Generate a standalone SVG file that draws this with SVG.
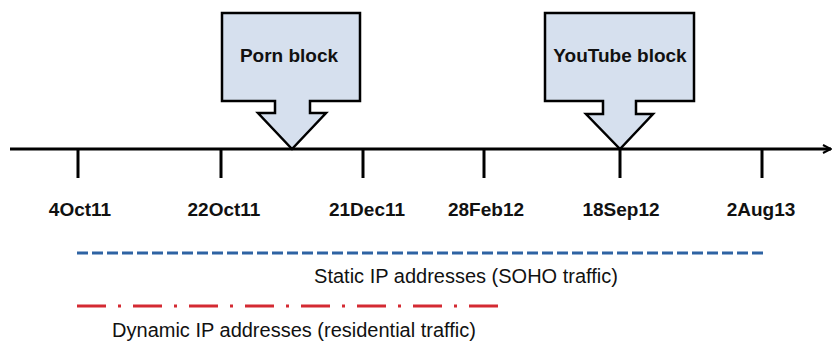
<svg xmlns="http://www.w3.org/2000/svg" width="834" height="347" viewBox="0 0 834 347">
  <style>
    .callout { fill: #d6e0ee; stroke: #000; stroke-width: 2.5; stroke-linejoin: miter; }
    .axis { stroke: #000; stroke-width: 3; fill: none; }
    .tick { stroke: #000; stroke-width: 3; }
    .lbl { font-family: "Liberation Sans", Arial, sans-serif; font-size: 19px; fill: #111; text-anchor: middle; }
    .date { font-weight: bold; }
    .title { font-weight: bold; }
    .legend { font-size: 20px; }
  </style>
  <defs>
    <marker id="arrowOpen" viewBox="0 0 10 10" refX="9" refY="5" markerWidth="10" markerHeight="10" markerUnits="userSpaceOnUse" orient="auto">
      <path d="M1,1 L9,5 L1,9" fill="none" stroke="#000" stroke-width="2"/>
    </marker>
  </defs>

  <!-- event callouts -->
  <g id="porn-block">
    <path class="callout" d="M222,13 H360 V101 H310 V113 H326 L292,149 L258,113 H275 V101 H222 Z"/>
    <text class="lbl title" x="289" y="62">Porn block</text>
  </g>
  <g id="youtube-block">
    <path class="callout" d="M545,13 H694 V101 H636 V114 H653 L620,149 L586,114 H603 V101 H545 Z"/>
    <text class="lbl title" x="620" y="62">YouTube block</text>
  </g>

  <!-- time axis -->
  <g id="connectors">
    <line class="axis" x1="10" y1="149" x2="831" y2="149" marker-end="url(#arrowOpen)"/>
    <line class="tick" x1="78" y1="149" x2="78" y2="178"/>
    <line class="tick" x1="221" y1="149" x2="221" y2="178"/>
    <line class="tick" x1="363" y1="149" x2="363" y2="178"/>
    <line class="tick" x1="484" y1="149" x2="484" y2="178"/>
    <line class="tick" x1="620" y1="149" x2="620" y2="178"/>
    <line class="tick" x1="762" y1="149" x2="762" y2="178"/>
  </g>

  <!-- date labels -->
  <g id="dates">
    <text class="lbl date" x="80" y="216">4Oct11</text>
    <text class="lbl date" x="224" y="216">22Oct11</text>
    <text class="lbl date" x="367" y="216">21Dec11</text>
    <text class="lbl date" x="486" y="216">28Feb12</text>
    <text class="lbl date" x="621" y="216">18Sep12</text>
    <text class="lbl date" x="761" y="216">2Aug13</text>
  </g>

  <!-- traffic periods -->
  <g id="static-ip">
    <line x1="77" y1="253" x2="765" y2="253" stroke="#2e63a3" stroke-width="3" stroke-dasharray="11 4"/>
    <text class="lbl legend" x="466" y="283">Static IP addresses (SOHO traffic)</text>
  </g>
  <g id="dynamic-ip">
    <line x1="77" y1="306" x2="498" y2="306" stroke="#d42a32" stroke-width="3" stroke-dasharray="29 12 3 12"/>
    <text class="lbl legend" x="294" y="337">Dynamic IP addresses (residential traffic)</text>
  </g>
</svg>
